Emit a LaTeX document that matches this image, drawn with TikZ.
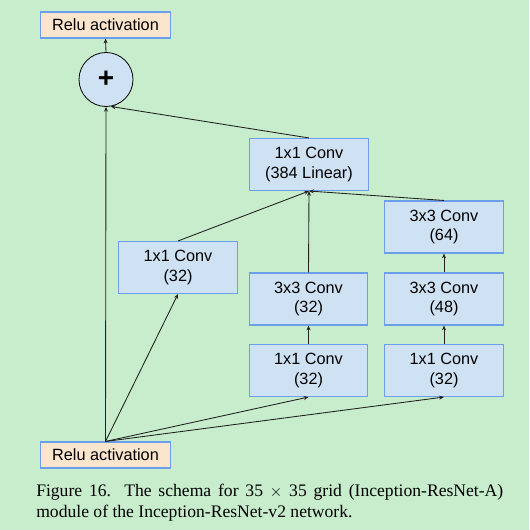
\documentclass[tikz,border=0pt]{standalone}
\usepackage{fontspec}
\setmainfont{Liberation Serif}
\newfontfamily\boxfont{Liberation Sans}
\usetikzlibrary{arrows.meta}
\definecolor{bgcol}{HTML}{C7EDCC}
\definecolor{convfill}{HTML}{CFE2F3}
\definecolor{convline}{HTML}{6D9EEB}
\definecolor{relufill}{HTML}{FCE5CD}
\definecolor{arrcol}{HTML}{222222}
\tikzset{
  convbox/.style={draw=convline, fill=convfill, line width=0.8pt, minimum width=89pt, minimum height=39pt, inner sep=0pt, align=center, font=\boxfont\fontsize{12.2}{14.5}\selectfont},
  relubox/.style={draw=convline, fill=relufill, line width=0.8pt, minimum width=98pt, minimum height=19.5pt, inner sep=0pt, font=\boxfont\fontsize{12.2}{14.5}\selectfont},
  plusnode/.style={circle, draw=black, fill=convfill, line width=0.6pt, minimum size=40.5pt, inner sep=0pt, font=\boxfont\bfseries\fontsize{21}{21}\selectfont},
  conn/.style={draw=arrcol, line width=0.65pt, -{Stealth[length=3.6pt,width=3pt]}},
  captext/.style={anchor=base west, inner sep=0pt, text width=350.25pt, align=justify, font=\fontsize{13.2}{15.75}\selectfont}
}
\begin{document}
\begin{tikzpicture}[x=0.75pt,y=-0.75pt]
\useasboundingbox (0,0) rectangle (529,530);
\fill[bgcol] (0,0) rectangle (529,530);
\node[relubox] (relutop) at (105.5,25) {Relu activation};
\node[plusnode] (plus) at (106,79.5) {+};
\node[convbox] (lin) at (309,164.5) {1x1 Conv\\(384 Linear)};
\node[convbox] (c1) at (178,267.5) {1x1 Conv\\(32)};
\node[convbox] (c32) at (308.5,299) {3x3 Conv\\(32)};
\node[convbox] (c64) at (444,227) {3x3 Conv\\(64)};
\node[convbox] (c48) at (444,299) {3x3 Conv\\(48)};
\node[convbox] (m1) at (308.5,370.5) {1x1 Conv\\(32)};
\node[convbox] (r1) at (444,370.5) {1x1 Conv\\(32)};
\node[relubox] (relubot) at (105.5,455) {Relu activation};
\draw[conn] (relubot.north) -- (plus.south);
\draw[conn] (relubot.north) -- (c1.south);
\draw[conn] (relubot.north) -- (m1.south);
\draw[conn] (relubot.north) -- (r1.south);
\draw[conn] (m1) -- (c32);
\draw[conn] (r1) -- (c48);
\draw[conn] (c48) -- (c64);
\draw[conn] (c32.north) -- (lin.south);
\draw[conn] (c1.north) -- (lin.south);
\draw[conn] (c64.north) -- (lin.south);
\draw[conn] (lin.north) -- (plus.-80);
\draw[conn] (plus.north) -- (relutop.south);
\node[captext] (cap) at (36,496)
  {\hyphenpenalty=10000 \exhyphenpenalty=10000 Figure 16. The schema for 35 $\times$ 35 grid (Inception-ResNet-A) module of the Inception-ResNet-v2 network.};
\end{tikzpicture}
\end{document}
